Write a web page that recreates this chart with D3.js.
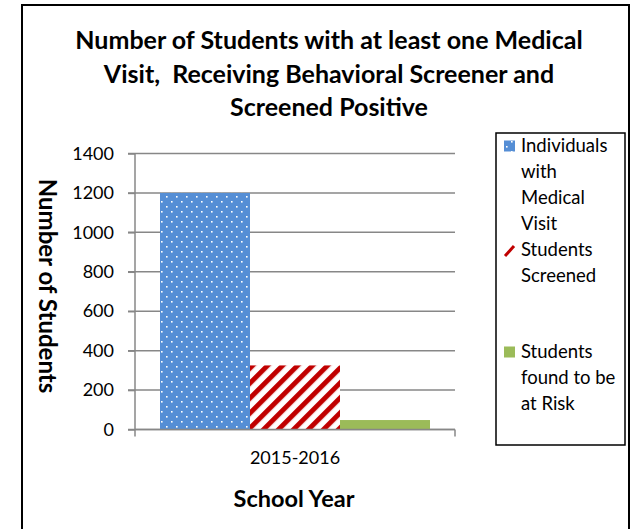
<!DOCTYPE html>
<html><head><meta charset="utf-8">
<script src="https://cdn.jsdelivr.net/npm/d3@7"></script>
<style>body{margin:0;background:#fff}svg text{font-family:Lato,"Open Sans",sans-serif;fill:#000;white-space:pre}</style>
</head><body><svg id="c" width="634" height="529"></svg>
<script>
const categories = ["2015-2016"];
const seriesNames = ["Individuals with Medical Visit","Students Screened","Students found to be at Risk"];
const individualsWithVisit = [1200];
const studentsScreened = [325];
const studentsAtRisk = [48];
const yTicks = [0,200,400,600,800,1000,1200,1400];
const titleLines = ["Number of Students with at least one Medical","Visit,  Receiving Behavioral Screener and","Screened Positive"];
const legendLines = [["Individuals","with","Medical","Visit"],["Students","Screened"],["Students","found to be","at Risk"]];

(function(){
const svg = d3.select("#c");
const defs = svg.append("defs");
const pd = defs.append("pattern").attr("id","dots").attr("patternUnits","userSpaceOnUse").attr("width",10).attr("height",10);
pd.append("rect").attr("width",10).attr("height",10).attr("fill","#558ED5");
pd.append("rect").attr("x",1).attr("y",1).attr("width",1.6).attr("height",1.6).attr("fill","#fff");
pd.append("rect").attr("x",6).attr("y",6).attr("width",1.6).attr("height",1.6).attr("fill","#fff");
const ps = defs.append("pattern").attr("id","stripes").attr("patternUnits","userSpaceOnUse").attr("width",10.6).attr("height",10.6).attr("patternTransform","rotate(45)");
ps.append("rect").attr("width",10.6).attr("height",10.6).attr("fill","#fff");
ps.append("rect").attr("width",5).attr("height",10.6).attr("fill","#C00000");

const fills = ["url(#dots)","url(#stripes)","#9BBB59"];
const values = [individualsWithVisit, studentsScreened, studentsAtRisk];

svg.append("rect").attr("x",22).attr("y",5).attr("width",607).attr("height",540).attr("fill","none").attr("stroke","#000").attr("stroke-width",2);

svg.append("g").selectAll("text").data(titleLines).join("text")
 .attr("x",329).attr("y",(d,i)=>49+i*33.5).attr("text-anchor","middle")
 .attr("font-size",25).attr("font-weight","bold").text(d=>d);

const pl=135,pr=455,pt=153.5,pb=429.5;
const y = d3.scaleLinear().domain([0,1400]).range([pb,pt]);
const x0 = d3.scaleBand().domain(categories).range([pl,pr]).paddingInner(0).paddingOuter(0.0926);
const x1 = d3.scaleBand().domain(seriesNames).range([0,x0.bandwidth()]);

svg.append("g").selectAll("line").data(yTicks).join("line")
 .attr("x1",128).attr("x2",pr).attr("y1",d=>y(d)).attr("y2",d=>y(d))
 .attr("stroke","#878787").attr("stroke-width",1.5);

const ya = svg.append("g").attr("transform",`translate(${pl},0)`).call(d3.axisLeft(y).tickValues(yTicks).tickFormat(d3.format("d")).tickSize(7).tickPadding(14));
ya.select(".domain").attr("stroke","#878787").attr("stroke-width",1.5).attr("d",`M0,${pt}V${pb}`);
ya.selectAll(".tick line").attr("stroke","#878787").attr("stroke-width",1.5);
ya.selectAll("text").attr("font-size",18).attr("fill","#000").style("font-family","Lato");

const g = svg.append("g");
categories.forEach((c,ci)=>{
  seriesNames.forEach((s,si)=>{
    g.append("rect").attr("x",x0(c)+x1(s)).attr("width",x1.bandwidth())
     .attr("y",y(values[si][ci])).attr("height",pb-y(values[si][ci])).attr("fill",fills[si]);
  });
});

svg.append("line").attr("x1",pl).attr("x2",pr).attr("y1",pb).attr("y2",pb).attr("stroke","#878787").attr("stroke-width",1.5);
[pl,pr].forEach(v=>svg.append("line").attr("x1",v).attr("x2",v).attr("y1",pb).attr("y2",pb+7).attr("stroke","#878787").attr("stroke-width",1.5));
svg.append("text").attr("x",x0(categories[0])+x0.bandwidth()/2).attr("y",464).attr("text-anchor","middle").attr("font-size",18).text(categories[0]);

svg.append("text").attr("x",294).attr("y",507).attr("text-anchor","middle").attr("font-size",23.5).attr("font-weight","bold").text("School Year");
svg.append("text").attr("transform","translate(39,286) rotate(90)").attr("text-anchor","middle").attr("font-size",24).attr("font-weight","bold").text("Number of Students");

svg.append("rect").attr("x",496).attr("y",133).attr("width",129).attr("height",312).attr("fill","#fff").attr("stroke","#000").attr("stroke-width",1.5);
const legStart=[146,250,352];
legendLines.forEach((lines,i)=>{
  const cy = legStart[i];
  if(i===1){
    svg.append("line").attr("x1",505).attr("y1",cy+6).attr("x2",514).attr("y2",cy-4).attr("stroke","#C00000").attr("stroke-width",3);
  } else {
    svg.append("rect").attr("x",504).attr("y",cy-5.5).attr("width",11).attr("height",11).attr("fill",fills[i]);
  }
  lines.forEach((t,j)=>svg.append("text").attr("x",521).attr("y",cy+j*26+6).attr("font-size",18.5).text(t));
});
})();
</script></body></html>
